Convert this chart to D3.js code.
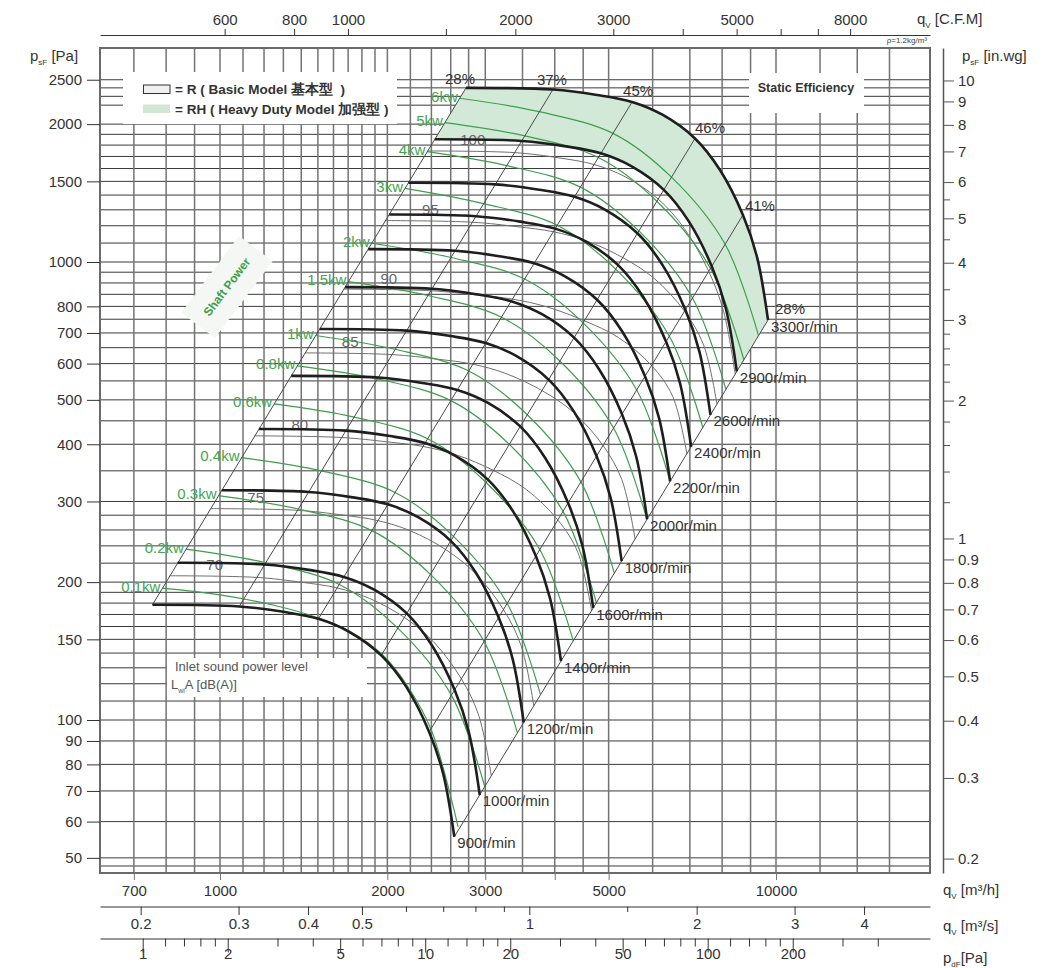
<!DOCTYPE html>
<html>
<head>
<meta charset="utf-8">
<script src="https://cdn.jsdelivr.net/npm/d3@7"></script>
<style>
  body { margin: 0; background: #fff; }
  text { font-family: "Liberation Sans", Arial, sans-serif; }
</style>
</head>
<body>
<div id="chart"></div>
<script>
// ---- data (q in m3/h, p in Pa) ----
const gridFlow = [700, 800, 900, 1000, 1100, 1200, 1300, 1400, 1500, 1600, 1700, 1800, 1900, 2000,
  2200, 2400, 2600, 2800, 3000, 3500, 4000, 4500, 5000, 6000, 7000, 8000, 9000, 10000, 12000, 14000, 16000];
const gridPressure = [2500, 2400, 2300, 2200, 2000, 1900, 1800, 1700, 1600, 1500, 1400, 1300, 1200, 1100,
  1000, 950, 900, 850, 800, 750, 700, 650, 600, 550, 500, 450, 400, 350, 300, 280, 260, 240, 220,
  200, 190, 180, 170, 160, 150, 140, 130, 120, 110, 100, 90, 80, 70, 60, 50, 48];

const pressureLabels = [2500, 2000, 1500, 1000, 800, 700, 600, 500, 400, 300, 200, 150, 100, 90, 80, 70, 60, 50];
const flowLabels = [700, 1000, 2000, 3000, 5000, 10000];
const flowTicks = [700, 1000, 2000, 3000, 4000, 5000, 10000];
const cfmTicks = [600, 800, 1000, 1500, 2000, 3000, 4000, 5000, 6000, 7000, 8000];
const cfmLabels = [600, 800, 1000, 2000, 3000, 5000, 8000];
const m3sTicks = [0.2, 0.3, 0.4, 0.5, 0.6, 0.7, 0.8, 0.9, 1, 1.5, 2, 3, 4];
const m3sLabels = [0.2, 0.3, 0.4, 0.5, 1, 2, 3, 4];
const pdTicks = [1, 1.2, 1.4, 1.6, 1.8, 2, 3, 4, 5, 6, 7, 8, 9, 10, 12, 14, 16, 18, 20, 30, 40, 50,
  60, 70, 80, 90, 100, 120, 140, 160, 180, 200, 300, 400];
const pdLabels = [1, 2, 5, 10, 20, 50, 100, 200];
const inwgTicks = [10, 9, 8, 7, 6, 5.5, 5, 4.5, 4, 3.5, 3, 2.8, 2.6, 2.4, 2.2, 2, 1.8, 1.6, 1.4, 1.2,
  1, 0.9, 0.8, 0.7, 0.6, 0.5, 0.4, 0.3, 0.2];
const inwgLabels = [10, 9, 8, 7, 6, 5, 4, 3, 2, 1, 0.9, 0.8, 0.7, 0.6, 0.5, 0.4, 0.3, 0.2];

// fan curves, one row per speed
const rpmValues = [900, 1000, 1200, 1400, 1600, 1800, 2000, 2200, 2400, 2600, 2900, 3300];
const rpmFlow = [
  [756, 1083, 1300, 1503, 1707, 1950, 2163, 2378, 2521, 2639],
  [839, 1203, 1444, 1670, 1897, 2167, 2403, 2642, 2802, 2932],
  [1007, 1444, 1733, 2004, 2276, 2600, 2884, 3171, 3362, 3518],
  [1175, 1684, 2022, 2338, 2656, 3033, 3364, 3699, 3922, 4105],
  [1343, 1925, 2310, 2672, 3035, 3467, 3845, 4228, 4482, 4691],
  [1511, 2166, 2599, 3006, 3415, 3900, 4326, 4756, 5043, 5277],
  [1679, 2406, 2888, 3339, 3794, 4333, 4806, 5285, 5603, 5864],
  [1847, 2647, 3177, 3673, 4173, 4767, 5287, 5813, 6163, 6450],
  [2015, 2887, 3465, 4007, 4553, 5200, 5767, 6342, 6724, 7036],
  [2182, 3128, 3754, 4341, 4932, 5633, 6248, 6870, 7284, 7623],
  [2434, 3489, 4187, 4842, 5501, 6283, 6969, 7663, 8124, 8502],
  [2770, 3970, 4765, 5510, 6260, 7150, 7930, 8720, 9245, 9675]
];
const rpmPressure = [
  [178.5, 177, 172.3, 166.3, 155.8, 138.4, 118.1, 94.2, 76.2, 55.6],
  [220.4, 218.6, 212.7, 205.3, 192.3, 170.9, 145.8, 116.4, 94.1, 68.6],
  [317.4, 314.7, 306.3, 295.7, 276.9, 246.1, 210, 167.5, 135.5, 98.8],
  [432, 428.4, 416.8, 402.4, 376.9, 334.9, 285.8, 228, 184.5, 134.4],
  [564.2, 559.5, 544.4, 525.6, 492.3, 437.5, 373.3, 297.8, 241, 175.6],
  [714, 708.1, 689.1, 665.3, 623, 553.7, 472.5, 377, 305, 222.2],
  [881.5, 874.2, 850.7, 821.3, 769.1, 683.6, 583.3, 465.4, 376.5, 274.4],
  [1066.7, 1057.8, 1029.3, 993.8, 930.7, 827.1, 705.8, 563.1, 455.6, 332],
  [1269.4, 1258.9, 1225, 1182.7, 1107.6, 984.3, 839.9, 670.2, 542.2, 395.1],
  [1489.8, 1477.4, 1437.7, 1388, 1299.9, 1155.2, 985.7, 786.5, 636.3, 463.7],
  [1853.4, 1838, 1788.6, 1726.8, 1617.1, 1437.2, 1226.4, 978.5, 791.6, 576.9],
  [2400, 2380, 2316, 2236, 2094, 1861, 1588, 1267, 1025, 747]
];

// static efficiency lines, from the 900 r/min curve up to the 3300 r/min curve
const effLabels = ['28%', '37%', '45%', '46%', '41%', '28%'];
const effLowFlow = [756, 1083, 1503, 1950, 2378, 2639];
const effLowPressure = [178.5, 177, 166.3, 138.4, 94.2, 55.6];
const effHighFlow = [2770, 3970, 5510, 7150, 8720, 9675];
const effHighPressure = [2400, 2380, 2236, 1861, 1267, 747];

// shaft power lines
const powerLabels = ['0.1kw', '0.2kw', '0.3kw', '0.4kw', '0.6kw', '0.8kw', '1kw', '1.5kw', '2kw', '3kw', '4kw', '5kw', '6kw'];
const powerFlow = [
  [788, 1000, 1266, 1505, 1712, 1958, 2172, 2400, 2680],
  [868, 1208, 1639, 2088, 2608, 2994],
  [994, 1383, 1876, 2390, 2985, 3427],
  [1093, 1522, 2065, 2630, 3284, 3771],
  [1251, 1743, 2363, 3011, 3760, 4318],
  [1377, 1918, 2601, 3315, 4139, 4753],
  [1486, 2066, 2802, 3570, 4457, 5119],
  [1702, 2365, 3208, 4086, 5103, 5860],
  [1874, 2603, 3531, 4498, 5617, 6450],
  [2152, 2980, 4041, 5148, 6429, 7385],
  [2360, 3280, 4448, 5667, 7076, 8127],
  [2538, 3534, 4791, 6105, 7622, 8754],
  [2699, 3754, 5092, 6486, 8101, 9302]
];
const powerPressure = [
  [194, 187.5, 177.4, 167, 156.3, 139, 118.8, 95, 58.4],
  [236, 220.5, 197.7, 158.7, 113.2, 71.5],
  [309, 288.9, 259.1, 207.9, 148.4, 93.7],
  [374, 349.9, 313.9, 251.8, 179.8, 113.6],
  [490, 458.6, 411.4, 330, 235.6, 148.8],
  [593, 555.5, 498.2, 399.7, 285.4, 180.3],
  [691, 644.8, 578.2, 463.9, 331.1, 209.2],
  [906, 844.9, 757.7, 608, 434, 274.1],
  [1099, 1023, 917.9, 736.4, 525.6, 332],
  [1448, 1341, 1203, 965.1, 688.7, 435.1],
  [1742, 1624, 1457, 1169, 834.3, 527],
  [2015, 1885, 1691, 1357, 968.3, 611.7],
  [2278, 2129, 1909, 1532, 1093, 690.5]
];

// inlet sound power level lines LwiA [dB(A)]
const soundLabels = ['70', '75', '80', '85', '90', '95', '100'];
const soundFlow = [
  [812, 1164, 1400, 1624, 1857, 2145, 2422, 2717, 2920, 3076],
  [962, 1379, 1658, 1924, 2201, 2545, 2877, 3234, 3480, 3668],
  [1155, 1655, 1993, 2318, 2663, 3104, 3553, 4051, 4401, 4659],
  [1423, 2039, 2453, 2850, 3268, 3794, 4316, 4885, 5282, 5579],
  [1670, 2394, 2883, 3357, 3866, 4521, 5205, 5972, 6517, 6913],
  [1984, 2844, 3422, 3976, 4562, 5300, 6038, 6846, 7410, 7831],
  [2364, 3388, 4068, 4708, 5359, 6140, 6843, 7568, 8054, 8444]
];
const soundPressure = [
  [206.5, 204.8, 199.9, 194.3, 184.3, 167.5, 148.1, 123, 102.3, 75.5],
  [289.4, 287, 280.3, 272.5, 258.8, 235.7, 209.1, 174.3, 145.3, 107.4],
  [417.3, 413.8, 405, 395.6, 379.1, 350.7, 318.8, 273.4, 232.3, 173.2],
  [633.2, 627.9, 613.9, 598.2, 570.7, 523.9, 470.4, 397.6, 334.6, 248.4],
  [872.7, 865.5, 847.9, 829.8, 798.5, 744.2, 684.3, 594.3, 509.4, 381.4],
  [1231.6, 1221.4, 1194.3, 1164.4, 1112, 1022.6, 920.7, 780.8, 658.5, 489.4],
  [1747.6, 1733.1, 1687.9, 1632.6, 1534.4, 1372.3, 1182.6, 954.2, 777.9, 569]
];

// ---- layout ----
const W = 1049, H = 968;
const frame = { left: 100, right: 930, top: 48, bottom: 873 };
const effLabelOffset = [[-21, -9], [-16, -10], [-9, -11], [0, -11], [2, -9], [7, -12]];

const svg = d3.select('#chart').append('svg')
  .attr('width', W).attr('height', H)
  .style('background', '#fff');

const x = d3.scaleLog().domain([1000, 10000]).range([220, 776]);
const y = d3.scaleLog().domain([1000, 100]).range([262, 720]);

// secondary scales sharing the same pixels
const xCfm = d3.scaleLog()
  .domain([x.invert(frame.left) * 0.588578, x.invert(frame.right) * 0.588578])
  .range([frame.left, frame.right]);
const xM3s = d3.scaleLog()
  .domain([x.invert(frame.left) / 3600, x.invert(frame.right) / 3600])
  .range([frame.left, frame.right]);
const pdBase = d3.scaleLog().domain([1, 100]).range([142.7, 707.7]);
const xPd = d3.scaleLog()
  .domain([pdBase.invert(frame.left), pdBase.invert(frame.right)])
  .range([frame.left, frame.right]);
const yIn = d3.scaleLog()
  .domain([y.invert(frame.top) / 249.089, y.invert(frame.bottom) / 249.089])
  .range([frame.top, frame.bottom]);

const fmt = d => String(d);
const pairs = (qs, ps) => qs.map((q, i) => [q, ps[i]]);
const curveLine = d3.line()
  .x(d => x(d[0]))
  .y(d => y(d[1]))
  .curve(d3.curveCatmullRom.alpha(0.5));

// ---- grid ----
const grid = svg.append('g');
grid.selectAll('line.h').data(gridPressure).join('line')
  .attr('class', 'h')
  .attr('x1', frame.left).attr('x2', frame.right)
  .attr('y1', d => y(d)).attr('y2', d => y(d))
  .attr('stroke', '#3a3a3a').attr('stroke-width', 1);
grid.selectAll('line.v').data(gridFlow).join('line')
  .attr('class', 'v')
  .attr('x1', d => x(d)).attr('x2', d => x(d))
  .attr('y1', frame.top).attr('y2', frame.bottom)
  .attr('stroke', '#737373').attr('stroke-width', 1.5);
svg.append('rect')
  .attr('x', frame.left).attr('y', frame.top)
  .attr('width', frame.right - frame.left).attr('height', frame.bottom - frame.top)
  .attr('fill', 'none').attr('stroke', '#6a6a6a').attr('stroke-width', 2);

// white boxes cut into the grid
const boxes = svg.append('g');
boxes.append('rect').attr('x', 123).attr('y', 72).attr('width', 274).attr('height', 52).attr('fill', '#fff');
boxes.append('rect').attr('x', 749).attr('y', 73).attr('width', 115).attr('height', 40).attr('fill', '#fff');
boxes.append('rect').attr('x', 167).attr('y', 658).attr('width', 200).attr('height', 39).attr('fill', '#fff');

// ---- axes ----
const axisStyle = (g, color) => {
  g.selectAll('path.domain').attr('stroke', color);
  g.selectAll('.tick line').attr('stroke', color);
  g.selectAll('.tick text').attr('fill', '#333').attr('font-size', 15)
    .attr('font-family', '"Liberation Sans", Arial, sans-serif');
};

// left Pa axis
const gLeft = svg.append('g').attr('transform', `translate(${frame.left},0)`)
  .call(d3.axisLeft(y).tickValues(pressureLabels).tickFormat(fmt).tickSize(13).tickPadding(5));
gLeft.select('path.domain').remove();
axisStyle(gLeft, '#333');

// right in.wg axis
const gRight = svg.append('g').attr('transform', 'translate(943,0)')
  .call(d3.axisRight(yIn).tickValues(inwgTicks)
    .tickFormat(d => inwgLabels.includes(d) ? fmt(d) : '').tickSize(7).tickSizeOuter(0).tickPadding(5));
gRight.selectAll('.tick').filter(d => inwgLabels.includes(d)).select('line').attr('x2', 11);
gRight.selectAll('.tick text').attr('x', 15);
axisStyle(gRight, '#555');
gRight.select('path.domain').attr('stroke-width', 1.5);

// top CFM axis
const gTop = svg.append('g').attr('transform', 'translate(0,35)')
  .call(d3.axisTop(xCfm).tickValues(cfmTicks)
    .tickFormat(d => cfmLabels.includes(d) ? fmt(d) : '').tickSize(6).tickSizeOuter(0).tickPadding(4));
axisStyle(gTop, '#333');

// bottom m3/h ticks
const gBottom = svg.append('g').attr('transform', `translate(0,${frame.bottom})`)
  .call(d3.axisBottom(x).tickValues(flowTicks)
    .tickFormat(d => flowLabels.includes(d) ? fmt(d) : '').tickSize(7).tickPadding(5));
gBottom.select('path.domain').remove();
axisStyle(gBottom, '#777');

// m3/s axis
const gM3s = svg.append('g').attr('transform', 'translate(0,906.5)')
  .call(d3.axisBottom(xM3s).tickValues(m3sTicks)
    .tickFormat(d => m3sLabels.includes(d) ? fmt(d) : '').tickSize(5.5).tickSizeOuter(0).tickPadding(6));
gM3s.selectAll('.tick').filter(d => m3sLabels.includes(d)).select('line').attr('y2', 8.5);
axisStyle(gM3s, '#333');

// dynamic pressure axis
const gPd = svg.append('g').attr('transform', 'translate(0,938.5)')
  .call(d3.axisBottom(xPd).tickValues(pdTicks)
    .tickFormat(d => pdLabels.includes(d) ? fmt(d) : '').tickSize(8).tickSizeOuter(0).tickPadding(2));
gPd.selectAll('.tick').filter(d => pdLabels.includes(d)).select('line').attr('y2', 14);
axisStyle(gPd, '#333');

// axis titles
const title = (tx, ty, main, sub, rest) => {
  const t = svg.append('text').attr('x', tx).attr('y', ty)
    .attr('font-size', 15).attr('fill', '#333');
  t.append('tspan').text(main);
  t.append('tspan').attr('font-size', 8).attr('dy', 4).text(sub);
  t.append('tspan').attr('dy', -4).text(rest);
};
title(30, 61, 'p', 'sF', ' [Pa]');
title(962, 61, 'p', 'sF', ' [in.wg]');
title(917, 24, 'q', 'V', ' [C.F.M]');
title(943, 895, 'q', 'V', ' [m³/h]');
title(943, 931, 'q', 'V', ' [m³/s]');
title(943, 963, 'p', 'dF', '[Pa]');
svg.append('text').attr('x', 927).attr('y', 43).attr('text-anchor', 'end')
  .attr('font-size', 8).attr('fill', '#444').text('ρ=1.2kg/m³');

// ---- RH (heavy duty) area between the top two speeds ----
const topCurve = pairs(rpmFlow[11], rpmPressure[11]);
const lowCurve = pairs(rpmFlow[10], rpmPressure[10]).reverse();
svg.append('path')
  .attr('d', curveLine(topCurve) + 'L' + curveLine(lowCurve).slice(1) + 'Z')
  .attr('fill', '#d3e9d8');

// ---- sound lines ----
const gSound = svg.append('g');
soundLabels.forEach((lab, i) => {
  const pts = pairs(soundFlow[i], soundPressure[i]);
  gSound.append('path').attr('d', curveLine(pts))
    .attr('fill', 'none').attr('stroke', '#707070').attr('stroke-width', 1);
  gSound.append('text')
    .attr('x', x(pts[0][0]) + 45).attr('y', y(pts[0][1]) - 11)
    .attr('text-anchor', 'middle').attr('dominant-baseline', 'central')
    .attr('font-size', 15).attr('fill', '#666').text(lab);
});

// ---- shaft power lines ----
const gPower = svg.append('g');
powerLabels.forEach((lab, i) => {
  const pts = pairs(powerFlow[i], powerPressure[i]);
  gPower.append('path').attr('d', curveLine(pts))
    .attr('fill', 'none').attr('stroke', '#3d9f4a').attr('stroke-width', 1.2);
  gPower.append('text')
    .attr('x', x(pts[0][0]) - 2).attr('y', y(pts[0][1]) - 2)
    .attr('text-anchor', 'end').attr('dominant-baseline', 'central')
    .attr('font-size', 15).attr('fill', '#45a552').text(lab);
});

// ---- efficiency lines ----
const gEff = svg.append('g');
effLabels.forEach((lab, i) => {
  gEff.append('line')
    .attr('x1', x(effLowFlow[i])).attr('y1', y(effLowPressure[i]))
    .attr('x2', x(effHighFlow[i])).attr('y2', y(effHighPressure[i]))
    .attr('stroke', '#4a4a4a').attr('stroke-width', 1);
  gEff.append('text')
    .attr('x', x(effHighFlow[i]) + effLabelOffset[i][0])
    .attr('y', y(effHighPressure[i]) + effLabelOffset[i][1])
    .attr('dominant-baseline', 'central')
    .attr('font-size', 15).attr('fill', '#333').text(lab);
});

// ---- fan curves ----
const gFan = svg.append('g');
rpmValues.forEach((rpm, i) => {
  const pts = pairs(rpmFlow[i], rpmPressure[i]);
  gFan.append('path').attr('d', curveLine(pts))
    .attr('fill', 'none').attr('stroke', '#1e1e1e').attr('stroke-width', 2.6);
  const end = pts[pts.length - 1];
  gFan.append('text')
    .attr('x', x(end[0]) + 3).attr('y', y(end[1]) + 6)
    .attr('dominant-baseline', 'central')
    .attr('font-size', 15).attr('fill', '#333').text(rpm + 'r/min');
});

// ---- legend and notes ----
const legend = svg.append('g');
legend.append('rect').attr('x', 143.5).attr('y', 85).attr('width', 26.5).attr('height', 8.5)
  .attr('fill', '#f0f0f0').attr('stroke', '#333').attr('stroke-width', 1);
legend.append('rect').attr('x', 143).attr('y', 104.5).attr('width', 27).attr('height', 8.5)
  .attr('fill', '#cfe7d4');
legend.append('text').attr('x', 175).attr('y', 89.5).attr('dominant-baseline', 'central')
  .attr('font-size', 13.5).attr('font-weight', 600).attr('fill', '#333')
  .attr('font-family', '"Open Sans", "Noto Sans CJK SC", sans-serif')
  .attr('xml:space', 'preserve')
  .text('= R ( Basic Model 基本型  )');
legend.append('text').attr('x', 175).attr('y', 109).attr('dominant-baseline', 'central')
  .attr('font-size', 13.5).attr('font-weight', 600).attr('fill', '#333')
  .attr('font-family', '"Open Sans", "Noto Sans CJK SC", sans-serif')
  .text('= RH ( Heavy Duty Model 加强型 )');

svg.append('text').attr('x', 806).attr('y', 88).attr('text-anchor', 'middle')
  .attr('dominant-baseline', 'central').attr('font-size', 12.5).attr('font-weight', 600)
  .attr('font-family', '"Open Sans", sans-serif').attr('fill', '#333').text('Static Efficiency');

const inlet = svg.append('text').attr('font-size', 13).attr('fill', '#555')
  .attr('font-family', '"Open Sans", sans-serif');
inlet.append('tspan').attr('x', 175).attr('y', 671).text('Inlet sound power level');
const l2 = svg.append('text').attr('x', 171).attr('y', 689).attr('font-size', 13).attr('fill', '#555')
  .attr('font-family', '"Open Sans", sans-serif');
l2.append('tspan').text('L');
l2.append('tspan').attr('font-size', 7).attr('dy', 4).text('wi');
l2.append('tspan').attr('dy', -4).text('A [dB(A)]');

// shaft power tag
const tag = svg.append('g').attr('transform', 'translate(227,287) rotate(-53)');
tag.append('rect').attr('x', -48).attr('y', -21).attr('width', 96).attr('height', 42)
  .attr('fill', '#f4f7f4');
tag.append('text').attr('text-anchor', 'middle').attr('dominant-baseline', 'central')
  .attr('font-size', 12).attr('font-weight', 700).attr('fill', '#3d9f4a')
  .attr('font-family', '"Open Sans", sans-serif').text('Shaft Power');
</script>
</body>
</html>
